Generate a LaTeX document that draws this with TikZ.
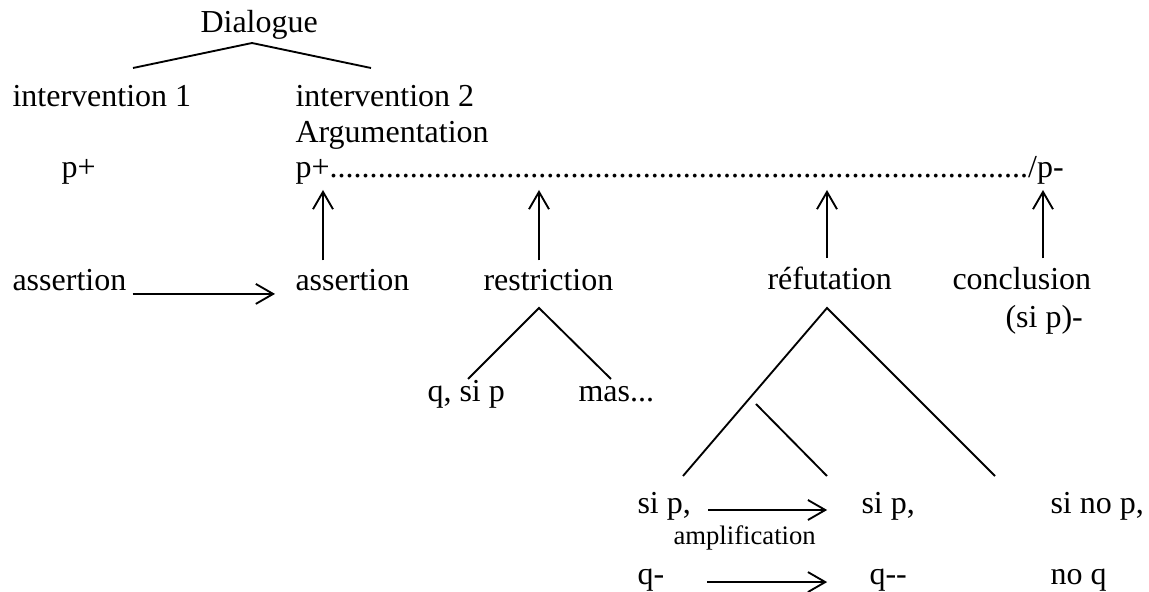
\documentclass[tikz,border=0pt]{standalone}
\usepackage{fontspec}
\setmainfont{Liberation Serif}
\usetikzlibrary{arrows.meta}

\begin{document}
\begin{tikzpicture}[x=0.375pt,y=-0.375pt,>={Straight Barb[length=6.5pt,width=7.5pt]},
  txt/.style={anchor=base west,inner sep=0pt,font=\fontsize{12}{14}\selectfont},
  small/.style={txt,font=\fontsize{10}{12}\selectfont},
  arr/.style={->,line width=0.7pt},
  branch/.style={line width=0.7pt}]
\useasboundingbox (0,0) rectangle (1149,592);

\node[txt] (dlg) at (200,33) {Dialogue};
\node[txt] (iv1) at (12,107) {intervention 1};
\node[txt] (iv2) at (295,107) {intervention 2};
\node[txt] (arg) at (295,143) {Argumentation};
\node[txt] (pa) at (61,178) {p+};
\node[txt] (pb) at (295,178) {p+\xleaders\hbox{.}\hskip262pt/p-};

\node[txt] (as1) at (12,291) {assertion};
\node[txt] (as2) at (295,291) {assertion};
\node[txt] (res) at (483,291) {restriction};
\node[txt] (ref) at (767,290) {réfutation};
\node[txt] (con) at (952,290) {conclusion};
\node[txt] (sip) at (1005,328) {(si p)-};

\node[txt] (qsi) at (427,402) {q, si p};
\node[txt] (mas) at (578,402) {mas...};

\node[txt] (b1) at (637,514) {si p,};
\node[txt] (b2) at (861,514) {si p,};
\node[txt] (b3) at (1050,514) {si no p,};
\node[small] (amp) at (673,545) {amplification};
\node[txt] (c1) at (637,585) {q-};
\node[txt] (c2) at (869,585) {q-{}-};
\node[txt] (c3) at (1050,585) {no q};

\coordinate (d0) at (252,43);
\coordinate (d1) at (133,68);
\coordinate (d2) at (371,68);
\coordinate (r0) at (539,308);
\coordinate (r1) at (468,379);
\coordinate (r2) at (611,379);
\coordinate (f0) at (827,308);
\coordinate (f1) at (683,476);
\coordinate (f2) at (995,476);
\coordinate (f3) at (756,404);
\coordinate (f4) at (827,476);
\coordinate (t1) at (323,190);
\coordinate (t2) at (539,190);
\coordinate (t3) at (827,190);
\coordinate (t4) at (1043,190);

\draw[branch] (d1) -- (d0) -- (d2);
\draw[branch] (r1) -- (r0) -- (r2);
\draw[branch] (f1) -- (f0) -- (f2);
\draw[branch] (f3) -- (f4);

\draw[arr] ([xshift=2.2pt,yshift=-1.1pt]as1.base east) -- ([xshift=-7.5pt,yshift=-1.1pt]as2.base west);
\draw[arr,shorten <=3.3pt] (as2.north -| t1) -- (t1);
\draw[arr,shorten <=3.3pt] (res.north -| t2) -- (t2);
\draw[arr,shorten <=3.3pt] (ref.north -| t3) -- (t3);
\draw[arr,shorten <=3.3pt] (con.north -| t4) -- (t4);
\draw[arr] ([xshift=6.4pt,yshift=1.5pt]b1.base east) -- ([xshift=-12.7pt,yshift=1.5pt]b2.base west);
\draw[arr] ([xshift=16pt,yshift=1.1pt]c1.base east) -- ([xshift=-15.7pt,yshift=1.1pt]c2.base west);
\end{tikzpicture}
\end{document}
